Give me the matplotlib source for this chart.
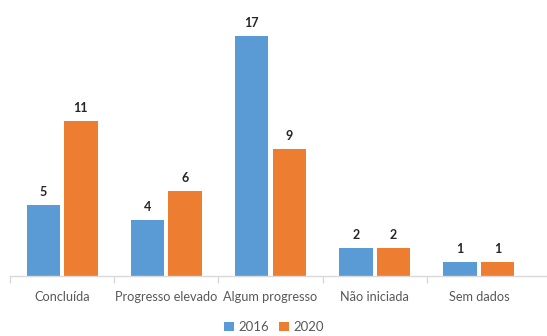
import matplotlib
matplotlib.use("Agg")
import matplotlib.pyplot as plt
import numpy as np

categories = ["Concluída", "Progresso elevado", "Algum progresso", "Não iniciada", "Sem dados"]
series_names = ["2016", "2020"]
values_2016 = [5, 4, 17, 2, 1]
values_2020 = [11, 6, 9, 2, 1]
colors = ["#5B9BD5", "#ED7D31"]

plt.rcParams["font.family"] = ["Lato", "DejaVu Sans"]

fig = plt.figure(figsize=(5.47, 3.36), dpi=100)
# category slot is 104.2 px wide; the baseline runs on to the right edge
slot_px = 104.2
ax = fig.add_axes([10 / 547, 60 / 336, 537 / 547, 254 / 336])

x = np.arange(len(categories))
width = 0.32
offset = 0.18

for vals, name, col, sign in [(values_2016, series_names[0], colors[0], -1),
                              (values_2020, series_names[1], colors[1], 1)]:
    bars = ax.bar(x + sign * offset, vals, width=width, color=col, label=name)
    for b, v in zip(bars, vals):
        ax.annotate(str(v), (b.get_x() + b.get_width() / 2, v),
                    xytext=(0, 5), textcoords="offset points",
                    ha="center", va="bottom", fontsize=9,
                    fontweight="bold", color="#262626")

ax.set_xlim(-0.5, -0.5 + 537 / slot_px)
ax.set_ylim(0, 18)
ax.set_yticks([])
for s in ["top", "right", "left"]:
    ax.spines[s].set_visible(False)
ax.spines["bottom"].set_color("#D9D9D9")
ax.spines["bottom"].set_linewidth(1)

ax.set_xticks(np.arange(-0.5, len(categories) - 0.5, 1), minor=False)
ax.set_xticklabels([])
ax.tick_params(axis="x", which="major", length=5, color="#D9D9D9", width=1)
ax.set_xticks(x, minor=True)
ax.set_xticklabels(categories, minor=True, fontsize=9.2, color="#595959")
ax.tick_params(axis="x", which="minor", length=0, pad=11)

ax.legend(loc="center", bbox_to_anchor=(274 / 547, 9 / 336),
          bbox_transform=fig.transFigure, ncol=2, frameon=False,
          fontsize=9.5, handlelength=0.75, handleheight=0.75,
          handletextpad=0.3, columnspacing=0.8, labelcolor="#595959")

fig.savefig("out.png", dpi=100, facecolor="white")
